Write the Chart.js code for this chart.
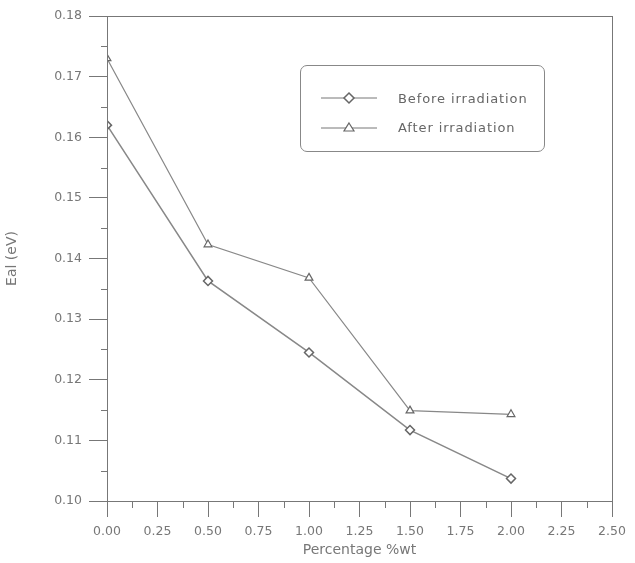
<!DOCTYPE html>
<html><head><meta charset="utf-8">
<script src="https://cdn.jsdelivr.net/npm/chart.js@4/dist/chart.umd.min.js"></script>
<style>
html,body{margin:0;padding:0;background:#fff;}
#wrap{position:relative;width:635px;height:563px;}
#legend{position:absolute;left:300px;top:65px;width:245px;height:87px;border:1px solid #888;border-radius:7px;box-sizing:border-box;font-family:"DejaVu Sans",sans-serif;font-size:13px;letter-spacing:0.9px;color:#666;}
.row{position:absolute;left:20px;height:16px;display:flex;align-items:center;}
.row span{margin-left:21px;}
</style></head>
<body><div id="wrap"><canvas id="c" width="635" height="563"></canvas>
<div id="legend">
<div class="row" style="top:24px"><svg width="56" height="16"><line x1="0" y1="8" x2="56" y2="8" stroke="#777" stroke-width="1"/><polygon points="28,3 33,8 28,13 23,8" fill="#fff" stroke="#666" stroke-width="1.5"/></svg><span>Before irradiation</span></div>
<div class="row" style="top:53px"><svg width="56" height="16"><line x1="0" y1="9" x2="56" y2="9" stroke="#777" stroke-width="1"/><polygon points="28,4 33,12 23,12" fill="#fff" stroke="#666" stroke-width="1.2"/></svg><span>After irradiation</span></div>
</div></div>
<script>
const xValues = [0, 0.5, 1.0, 1.5, 2.0];
const beforeIrr = [0.162, 0.1363, 0.1245, 0.1117, 0.1037];
const afterIrr = [0.1730, 0.1423, 0.1368, 0.1149, 0.1143];
const seriesNames = ["Before irradiation", "After irradiation"];
const xTitle = "Percentage %wt";
const yTitle = "Eal (eV)";

const grey = "#777";
const font = {family: "DejaVu Sans", size: 12.5};

const minorTicks = {
  id: 'minorTicks',
  afterDraw(chart) {
    const ctx = chart.ctx, a = chart.chartArea;
    const xs = chart.scales.x, ys = chart.scales.y;
    ctx.save();
    ctx.strokeStyle = grey; ctx.lineWidth = 1;
    ctx.strokeRect(a.left + 0.5, a.top + 0.5, a.right - a.left, a.bottom - a.top);
    ctx.beginPath();
    for (let v = 0.125; v < 2.5; v += 0.25) {
      const px = Math.round(xs.getPixelForValue(v)) + 0.5;
      ctx.moveTo(px, a.bottom); ctx.lineTo(px, a.bottom + 7);
    }
    for (let v = 0.105; v < 0.18; v += 0.01) {
      const py = Math.round(ys.getPixelForValue(v)) + 0.5;
      ctx.moveTo(a.left - 6, py); ctx.lineTo(a.left, py);
    }
    ctx.stroke();
    ctx.restore();
  }
};

new Chart(document.getElementById('c'), {
  type: 'line',
  data: {
    datasets: [
      {label: seriesNames[0], data: xValues.map((x, i) => ({x, y: beforeIrr[i]})),
       borderColor: '#888', borderWidth: 1.5, pointStyle: 'rectRot', pointRadius: 4.5,
       pointBackgroundColor: '#fff', pointBorderColor: '#666', pointBorderWidth: 1.5, tension: 0},
      {label: seriesNames[1], data: xValues.map((x, i) => ({x, y: afterIrr[i]})),
       borderColor: '#888', borderWidth: 1.2, pointStyle: 'triangle', pointRadius: 4.5,
       pointBackgroundColor: '#fff', pointBorderColor: '#666', pointBorderWidth: 1.2, tension: 0}
    ]
  },
  options: {
    responsive: false, animation: false,
    layout: {padding: {left: 4, right: 23, top: 16, bottom: 4}},
    plugins: {legend: {display: false}, tooltip: {enabled: false}},
    scales: {
      x: {type: 'linear', min: 0, max: 2.5,
          ticks: {stepSize: 0.25, color: grey, font, padding: 7, maxRotation: 0,
                  callback: v => v.toFixed(2)},
          grid: {drawOnChartArea: false, tickLength: 16, color: grey, tickColor: grey},
          border: {color: grey},
          title: {display: true, text: xTitle, color: grey, font: {family: "DejaVu Sans", size: 14}, padding: {top: 0, bottom: 0}},
          afterFit: s => { s.height = 58; }},
      y: {type: 'linear', min: 0.10, max: 0.18,
          ticks: {stepSize: 0.01, color: grey, font, padding: 7, callback: v => v.toFixed(2)},
          grid: {drawOnChartArea: false, tickLength: 18, color: grey, tickColor: grey},
          border: {color: grey},
          title: {display: true, text: yTitle, color: grey, font: {family: "DejaVu Sans", size: 14}, padding: {top: 0, bottom: 0}},
          afterFit: s => { s.width = 103; }}
    }
  },
  plugins: [minorTicks]
});
</script></body></html>
